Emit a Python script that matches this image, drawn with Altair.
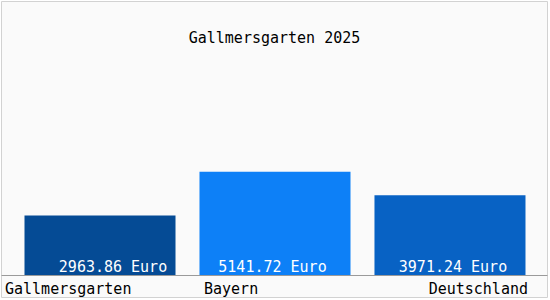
import altair as alt
import pandas as pd

regions = ["Gallmersgarten", "Bayern", "Deutschland"]
values = [2963.86, 5141.72, 3971.24]
labels = ["2963.86 Euro", "5141.72 Euro", "3971.24 Euro"]
colors = ["#054b95", "#0d80f7", "#0862c4"]
title = "Gallmersgarten 2025"

df = pd.DataFrame({"region": regions, "value": values, "label": labels})

FONT = "DejaVu Sans Mono"
FS = 15
label_dx = {"Gallmersgarten": 13, "Bayern": -2.5, "Deutschland": 3}

x = alt.X(
    "region:N",
    sort=regions,
    title=None,
    scale=alt.Scale(paddingInner=0.137, paddingOuter=0.1286, align=0.522),
    axis=alt.Axis(
        labelAngle=0,
        ticks=False,
        tickSize=0,
        offset=-22,
        domainColor="#9a9a9a",
        domainWidth=1,
        labelFont=FONT,
        labelFontSize=FS,
        labelColor="black",
        labelBaseline="alphabetic",
        labelPadding=18,
        labelAlign=alt.expr("datum.value == 'Deutschland' ? 'right' : 'left'"),
        labelOffset=alt.expr(
            "datum.value == 'Gallmersgarten' ? -95 : (datum.value == 'Bayern' ? -71 : 78)"
        ),
    ),
)
y = alt.Y(
    "value:Q",
    title=None,
    scale=alt.Scale(domain=[0, 13636], range=[274, 0], nice=False),
    axis=None,
)

bars = alt.Chart(df).mark_bar().encode(
    x=x,
    y=y,
    color=alt.Color("region:N", scale=alt.Scale(domain=regions, range=colors), legend=None),
)

texts = []
for r in regions:
    texts.append(
        alt.Chart(df)
        .transform_filter(alt.datum.region == r)
        .mark_text(
            font=FONT,
            fontSize=FS,
            color="white",
            align="center",
            baseline="alphabetic",
            dx=label_dx[r],
            dy=-3,
        )
        .encode(
            x=alt.X("region:N", sort=regions),
            y=alt.datum(0),
            text="label:N",
        )
    )

title_mark = alt.Chart(pd.DataFrame({"t": [title]})).mark_text(
    font=FONT, fontSize=FS, color="black", align="center", baseline="alphabetic"
).encode(text="t:N", x=alt.value(273.5), y=alt.value(42))

chart = alt.layer(bars, *texts, title_mark).properties(
    width=546,
    height=296,
    autosize=alt.AutoSizeParams(type="none"),
    padding={"left": 1, "top": 1, "right": 3, "bottom": 3},
    background="white",
).configure_view(stroke="#d2d2d2", fill="#fafafa")

chart.save("out.html", embed_options={"renderer": "svg", "actions": False})
